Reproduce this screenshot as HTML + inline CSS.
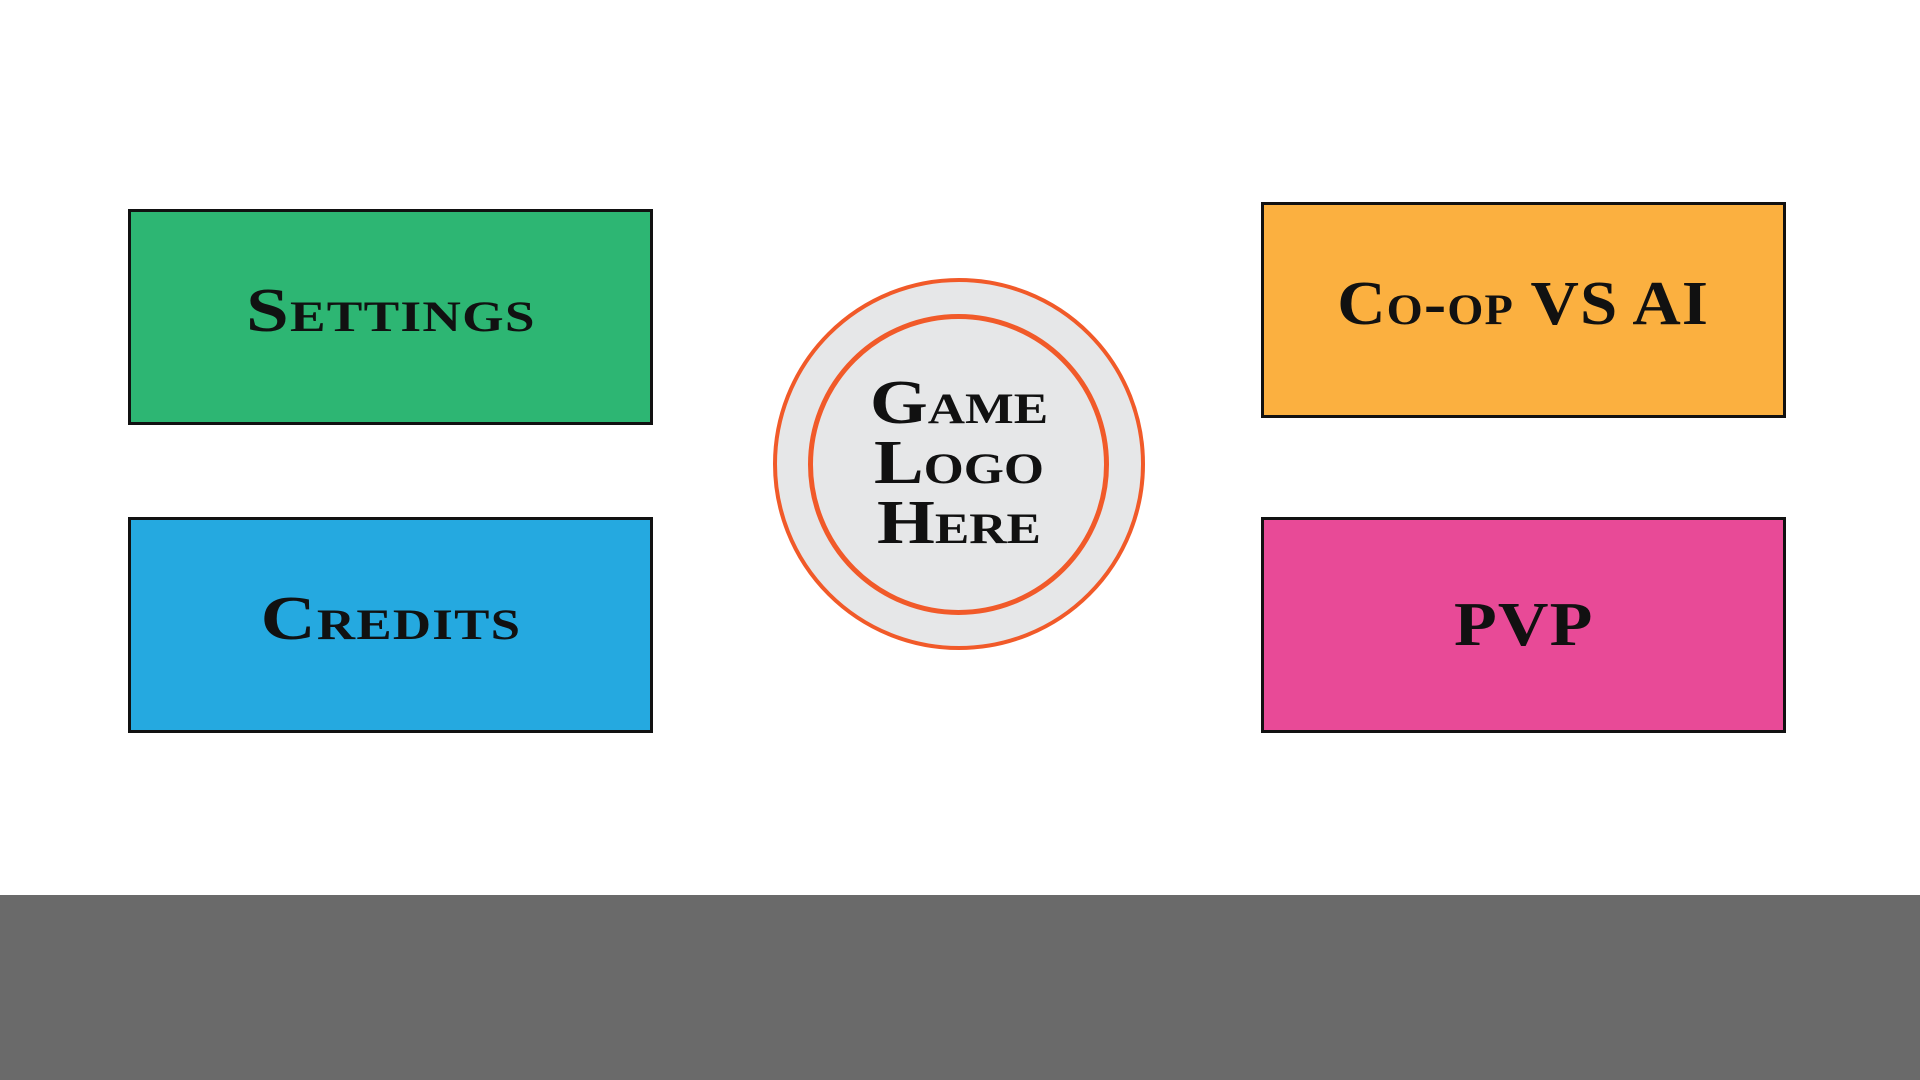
<!DOCTYPE html>
<html><head><meta charset="utf-8"><style>
html,body{margin:0;padding:0;width:1920px;height:1080px;overflow:hidden;background:#fff;position:relative}
.box{position:absolute;box-sizing:border-box;border:3px solid #111;display:flex;align-items:center;justify-content:center;
font-family:"Liberation Serif",serif;font-weight:bold;font-variant:small-caps;font-size:62px;color:#111;letter-spacing:1px}
.box span{display:inline-block;white-space:nowrap}
.band{position:absolute;left:0;top:895px;width:1920px;height:185px;background:#6a6a6a}
.c{position:absolute;border-radius:50%;box-sizing:border-box}
.logo{position:absolute;left:809px;top:373px;width:300px;text-align:center;font-family:"Liberation Serif",serif;font-weight:bold;font-variant:small-caps;font-size:62px;line-height:60px;color:#111;transform:scaleX(1.2)}
</style></head><body>
<div class="box" style="left:128px;top:209px;width:525px;height:216px;background:#2db673"><span style="margin-top:-12px;transform:scaleX(1.24)">Settings</span></div>
<div class="box" style="left:128px;top:517px;width:525px;height:216px;background:#25a9e0"><span style="margin-top:-12px;transform:scaleX(1.23)">Credits</span></div>
<div class="box" style="left:1261px;top:202px;width:525px;height:216px;background:#fbb040"><span style="margin-top:-12px;transform:scaleX(1.08)">Co-op VS AI</span></div>
<div class="box" style="left:1261px;top:517px;width:525px;height:216px;background:#e84a97"><span style="margin-top:0;transform:scaleX(1.13)">PVP</span></div>
<div class="c" style="left:773px;top:278px;width:372px;height:372px;background:#e6e7e8;border:4px solid #f15a29"></div>
<div class="c" style="left:808px;top:314px;width:301px;height:301px;border:5px solid #f15a29"></div>
<div class="logo">Game<br>Logo<br>Here</div>
<div class="band"></div>
</body></html>
